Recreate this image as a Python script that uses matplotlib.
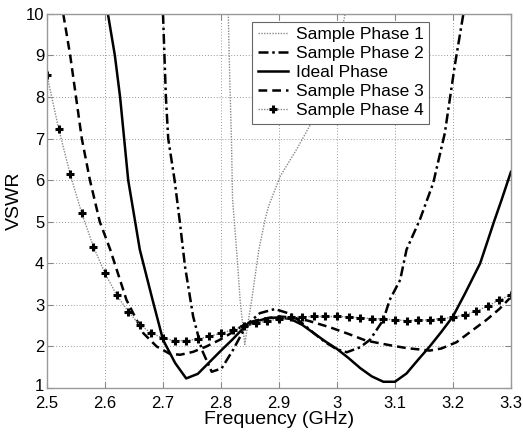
import numpy as np
import matplotlib
matplotlib.use('Agg')
import matplotlib.pyplot as plt
import matplotlib.transforms as mtransforms

plt.rcParams['font.family'] = ['Liberation Sans', 'DejaVu Sans']

# Sample Phase 1 (dotted, gray)
f1 = [2.8126, 2.815, 2.818, 2.820, 2.827, 2.833, 2.841, 2.847, 2.853, 2.865, 2.876, 2.882,
      2.902, 2.930, 2.956, 2.985, 3.000, 3.014]
v1 = [10.0, 8.5, 7.0, 5.53, 4.3, 3.12, 2.05, 2.6, 3.12, 4.3, 5.05, 5.37,
      6.09, 6.73, 7.38, 8.3, 9.0, 10.0]

# Sample Phase 2 (dash-dot)
f2 = [2.700, 2.705, 2.709, 2.720, 2.729, 2.738, 2.752, 2.767, 2.784, 2.801, 2.821, 2.844,
      2.867, 2.893, 2.920, 2.940, 2.960, 2.980, 3.000, 3.017, 3.040, 3.057, 3.080, 3.091,
      3.109, 3.120, 3.143, 3.166, 3.186, 3.203, 3.218]
v2 = [10.0, 8.0, 7.0, 6.0, 5.0, 3.92, 2.72, 1.92, 1.39, 1.47, 1.92, 2.52,
      2.80, 2.90, 2.78, 2.56, 2.32, 2.10, 1.93, 1.86, 1.98, 2.16, 2.64, 3.12,
      3.6, 4.33, 5.05, 5.93, 7.13, 8.74, 10.0]

# Ideal Phase (solid)
f3 = [2.605, 2.617, 2.626, 2.633, 2.640, 2.652, 2.660, 2.682, 2.700, 2.721, 2.740, 2.760,
      2.780, 2.800, 2.820, 2.840, 2.860, 2.880, 2.900, 2.920, 2.940, 2.960, 2.980, 3.000,
      3.020, 3.040, 3.060, 3.080, 3.100, 3.120, 3.140, 3.160, 3.180, 3.200, 3.220, 3.247,
      3.272, 3.284, 3.300]
v3 = [10.0, 9.0, 8.0, 7.0, 6.0, 5.0, 4.33, 3.12, 2.16, 1.60, 1.23, 1.34,
      1.62, 1.90, 2.17, 2.46, 2.60, 2.68, 2.70, 2.66, 2.52, 2.32, 2.12, 1.94,
      1.72, 1.48, 1.28, 1.15, 1.15, 1.35, 1.68, 2.00, 2.35, 2.72, 3.25, 4.0,
      5.05, 5.53, 6.2]

# Sample Phase 3 (dashed)
f4 = [2.528, 2.540, 2.550, 2.560, 2.574, 2.591, 2.609, 2.637, 2.666, 2.689, 2.712, 2.730,
      2.752, 2.775, 2.798, 2.820, 2.844, 2.870, 2.900, 2.920, 2.950, 2.988, 3.020, 3.050,
      3.091, 3.120, 3.160, 3.180, 3.206, 3.230, 3.258, 3.280, 3.298]
v4 = [10.0, 9.0, 8.0, 7.0, 6.0, 5.0, 4.33, 3.12, 2.32, 2.00, 1.82, 1.80,
      1.87, 2.00, 2.16, 2.34, 2.56, 2.66, 2.72, 2.70, 2.62, 2.46, 2.30, 2.14,
      2.03, 1.96, 1.90, 1.95, 2.10, 2.35, 2.64, 2.90, 3.16]

# Sample Phase 4 (dotted + markers)
f5 = [round(2.5 + 0.02 * i, 2) for i in range(41)]
v5 = [8.52, 7.24, 6.14, 5.20, 4.40, 3.76, 3.24, 2.84, 2.52, 2.32, 2.20, 2.14, 2.14,
      2.18, 2.24, 2.32, 2.40, 2.48, 2.56, 2.62, 2.66, 2.70, 2.71, 2.72, 2.72, 2.72,
      2.71, 2.69, 2.67, 2.66, 2.64, 2.62, 2.63, 2.64, 2.67, 2.70, 2.76, 2.85, 2.97,
      3.12, 3.24]

xtick_labels = ['2.5', '2.6', '2.7', '2.8', '2.9', '3', '3.1', '3.2', '3.3']

fig = plt.figure(figsize=(5.23, 4.34), dpi=100)
ax = fig.add_axes([0.0899, 0.106, 0.887, 0.862])

ax.plot(f1, v1, color='#888888', linestyle=(0, (1, 1)), linewidth=1.0, label='Sample Phase 1')
ax.plot(f2, v2, color='black', linestyle=(0, (4, 1.5, 1, 1.5)), linewidth=1.8, label='Sample Phase 2')
ax.plot(f3, v3, color='black', linestyle='-', linewidth=1.8, label='Ideal Phase')
ax.plot(f4, v4, color='black', linestyle=(0, (3.5, 2)), linewidth=1.8, label='Sample Phase 3')
ax.plot(f5, v5, color='#888888', linestyle=(0, (1, 1)), linewidth=1.0,
        marker='+', markersize=6, markeredgewidth=2.2, markeredgecolor='black',
        label='Sample Phase 4')

ax.set_xlim(2.5, 3.3)
ax.set_ylim(1, 10)
ax.set_xticks(np.arange(2.5, 3.31, 0.1))
ax.set_xticklabels(xtick_labels)
ax.set_yticks(range(1, 11))
ax.tick_params(direction='in', top=True, right=True, labelsize=12, length=4,
               color='#888888')
ax.tick_params(axis='x', pad=5.5)
ax.tick_params(axis='y', pad=2)
for s in ax.spines.values():
    s.set_color('#999999')
    s.set_linewidth(1.0)
ax.grid(True, linestyle=(0, (1, 2)), color='#999999', linewidth=0.7)

# nudge the bottom "1" label up a little so it clears "2.5"
lab1 = ax.yaxis.get_major_ticks()[0].label1
lab1.set_transform(lab1.get_transform() +
                   mtransforms.ScaledTranslation(0, 3 / 100, fig.dpi_scale_trans))

ax.set_xlabel('Frequency (GHz)', fontsize=14, labelpad=0)
ax.set_ylabel('VSWR', fontsize=14, labelpad=2)

leg = ax.legend(loc='upper right', bbox_to_anchor=(0.820, 0.949),
                bbox_transform=fig.transFigure, borderaxespad=0,
                fontsize=12.5, handlelength=1.75, labelspacing=0.22,
                handletextpad=0.45, borderpad=0.3, fancybox=False, framealpha=1)
leg.get_frame().set_edgecolor('#666666')
leg.get_frame().set_linewidth(0.8)

fig.savefig('out.png', dpi=100)
